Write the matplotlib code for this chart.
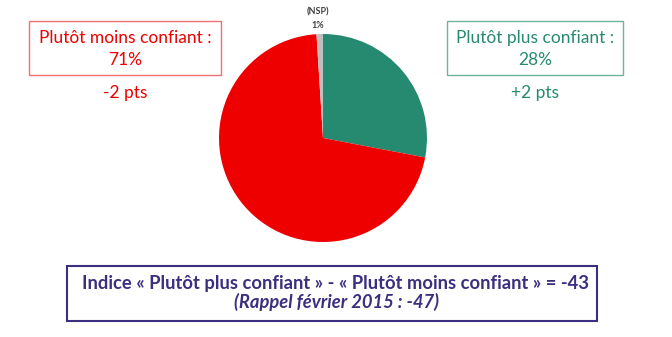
import matplotlib
matplotlib.use("Agg")
import matplotlib.pyplot as plt
from matplotlib.patches import Rectangle

labels = ["Plutôt plus confiant", "Plutôt moins confiant", "NSP"]
values = [28, 71, 1]
changes = ["+2 pts", "-2 pts", ""]
colors = ["#268A70", "#EE0000", "#BFBFBF"]
indice = -43
rappel = -47

W, H = 672, 337
fig = plt.figure(figsize=(W / 100, H / 100), dpi=100)
fig.patch.set_facecolor("white")

def fx(x):
    return x / W

def fy(y):
    return 1 - y / H

# Pie
cx, cy, r = 323, 138, 104
ax = fig.add_axes([fx(cx - r), fy(cy + r), 2 * r / W, 2 * r / H])
ax.pie(values, colors=colors, startangle=90, counterclock=False,
       wedgeprops=dict(linewidth=0))
ax.set_aspect("auto")
ax.set_xlim(-1, 1)
ax.set_ylim(-1, 1)
ax.axis("off")

font = ["Lato", "DejaVu Sans"]

def box(x0, y0, x1, y1, color, lw=1.0):
    fig.patches.append(Rectangle((fx(x0), fy(y1)), (x1 - x0) / W, (y1 - y0) / H,
                                 transform=fig.transFigure, fill=False,
                                 edgecolor=color, linewidth=lw))

# Left box (moins confiant)
box(29, 21, 221, 75, "#F07070")
fig.text(fx(125), fy(38), f"{labels[1]} :", color=colors[1], ha="center", va="center",
         fontsize=12.5, family=font)
fig.text(fx(125), fy(60), f"{values[1]}%", color=colors[1], ha="center", va="center",
         fontsize=12.5, family=font)
fig.text(fx(125), fy(93), changes[1], color=colors[1], ha="center", va="center",
         fontsize=12.5, family=font)

# Right box (plus confiant)
box(447, 21, 623, 75, "#6FB4A0")
fig.text(fx(535), fy(38), f"{labels[0]} :", color=colors[0], ha="center", va="center",
         fontsize=12.5, family=font)
fig.text(fx(535), fy(60), f"{values[0]}%", color=colors[0], ha="center", va="center",
         fontsize=12.5, family=font)
fig.text(fx(535), fy(93), changes[0], color=colors[0], ha="center", va="center",
         fontsize=12.5, family=font)

# NSP label
fig.text(fx(318), fy(12), f"({labels[2]})", color="#404040", ha="center", va="center",
         fontsize=6.5, fontweight="bold", family=font)
fig.text(fx(318), fy(26), f"{values[2]}%", color="#404040", ha="center", va="center",
         fontsize=6.5, fontweight="bold", family=font)

# Bottom box
navy = "#3B2F7F"
box(67, 266, 597, 321, navy, lw=1.5)
fig.text(fx(336), fy(283),
         f"Indice « {labels[0]} » - « {labels[1]} » = {indice}",
         color=navy, ha="center", va="center", fontsize=13.2, fontweight="bold", family=font)
fig.text(fx(336), fy(302), f"(Rappel février 2015 : {rappel})",
         color=navy, ha="center", va="center", fontsize=13.2, fontweight="bold",
         style="italic", family=font)

fig.savefig("out.png", dpi=100, facecolor="white")
